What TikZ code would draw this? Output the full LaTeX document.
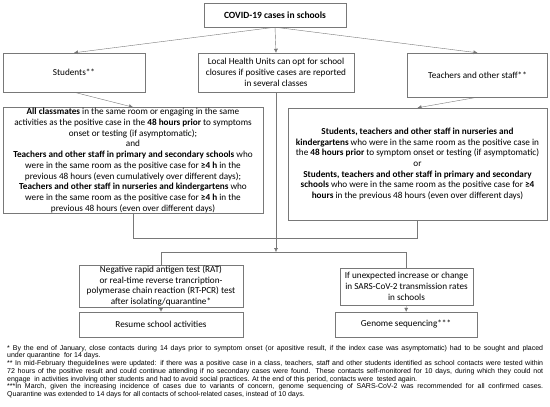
\documentclass[tikz,border=0pt]{standalone}
\usepackage{fontspec}
\setmainfont{Carlito}
\newfontfamily\notefont{Liberation Sans}
\usetikzlibrary{arrows.meta, calc, positioning}
\definecolor{framegray}{RGB}{120,120,120}
\newcommand{\fullline}[1]{\makebox[536pt][s]{#1}}
\tikzset{
	-{Latex[length=4pt, width=4pt]}, line width=0.6pt,
	box/.style ={rectangle, draw=framegray, align=center, inner sep=1pt, font=\fontsize{9.2}{10.7}\selectfont},
	link/.style = {draw=framegray},
	note/.style = {anchor=north west, inner sep=0pt, align=left, font=\notefont\fontsize{7}{7.7}\selectfont}
}
\begin{document}
\begin{tikzpicture}[x=1pt, y=-1pt]
		\useasboundingbox (0,0) rectangle (550,407);
		\node[box, minimum width=142pt, minimum height=24pt, font=\fontsize{9.5}{10}\selectfont\bfseries] (c) at (275, 15) {COVID-19 cases in schools};
		\node[box, minimum width=142pt, minimum height=39pt] (s) at (74, 72.5) {Students**};
		\node[box, minimum width=156pt, minimum height=39pt] (l) at (276, 72.5) {Local Health Units can opt for school\\ closures if positive cases are reported\\ in several classes};
		\node[box, minimum width=140pt, minimum height=44pt] (t) at (477.5, 75) {Teachers and other staff**};
		
		% Contacts
		\node[box, minimum width=260pt, minimum height=105pt] (sc) at (133, 160.5) {\textbf{All classmates} in the same room or engaging in the same\\ activities as the positive case in the \textbf{48 hours prior} to symptoms\\ onset or testing (if asymptomatic);\\ and\\ \textbf{Teachers and other staff in primary and secondary schools} who\\ were in the same room as the positive case for \textbf{≥4 h} in the\\ previous 48 hours (even cumulatively over different days);\\ \textbf{Teachers and other staff in nurseries and kindergartens} who\\ were in the same room as the positive case for \textbf{≥4 h} in the\\ previous 48 hours (even over different days)};
		\node[box, minimum width=259pt, minimum height=112pt] (tc) at (417.5, 164) {\textbf{Students, teachers and other staff in nurseries and}\\ \textbf{kindergartens} who were in the same room as the positive case in\\ the \textbf{48 hours prior} to symptom onset or testing (if asymptomatic)\\ or\\ \textbf{Students, teachers and other staff in primary and secondary}\\ \textbf{schools} who were in the same room as the positive case for \textbf{≥4}\\ \textbf{hours} in the previous 48 hours (even over different days)};
		
		% Outcomes
		\node[box, minimum width=164pt, minimum height=38pt] (neg) at (161, 286) {Negative rapid antigen test (RAT)\\ or real-time reverse trancription-\\ polymerase chain reaction (RT-PCR) test\\ after isolating/quarantine*};
		\node[box, minimum width=164pt, minimum height=25pt] (res) at (161, 324.5) {Resume school activities};
		\node[box, minimum width=133pt, minimum height=37pt] (ifc) at (406.5, 286.5) {If unexpected increase or change\\ in SARS-CoV-2 transmission rates\\ in schools};
		\node[box, minimum width=142pt, minimum height=25pt] (gen) at (406, 324.5) {Genome sequencing***};
		\coordinate (m) at (276, 238);
		\coordinate (b) at (276, 252);
		
		% Directed edges
		\draw[link] (c.south) -- (s.north);
		\draw[link] (c.south) -- (l.north);
		\draw[link] (c.south) -- (t.north);
		\draw[link] (s.south) -- (sc.north);
		\draw[link] (t.south) -- (tc.north);
		\draw[link, -] (l.south) -- (m);
		\draw[link, -] (sc.south) |- (m);
		\draw[link, -] (tc.south) |- (m);
		\draw[link] (m) -- (b);
		\draw[link, -] (b) -| (neg.north);
		\draw[link, -] (b) -| (ifc.north);
		\draw[link] (neg) -- (res);
		\draw[link] (ifc) -- (gen);
		
		% Footnotes
		\node[note] (fn) at (7, 345) {\fullline{* By the end of January, close contacts during 14 days prior to symptom onset (or apositive result, if the index case was asymptomatic) had to be sought and placed}\\ under quarantine\ \ for 14 days.\\ \fullline{** In mid-February theguidelines were updated: if there was a positive case in a class, teachers, staff and other students identified as school contacts were tested within}\\ \fullline{72 hours of the positive result and could continue attending if no secondary cases were found. These contacts self-monitored for 10 days, during which they could not}\\ engage\ \ in activities involving other students and had to avoid social practices. At the end of this period, contacts were\ \ tested again.\\ \fullline{***In March, given the increasing incidence of cases due to variants of concern, genome sequencing of SARS-CoV-2 was recommended for all confirmed cases.}\\ Quarantine was extended to 14 days for all contacts of school-related cases, instead of 10 days.};
\end{tikzpicture}
\end{document}
